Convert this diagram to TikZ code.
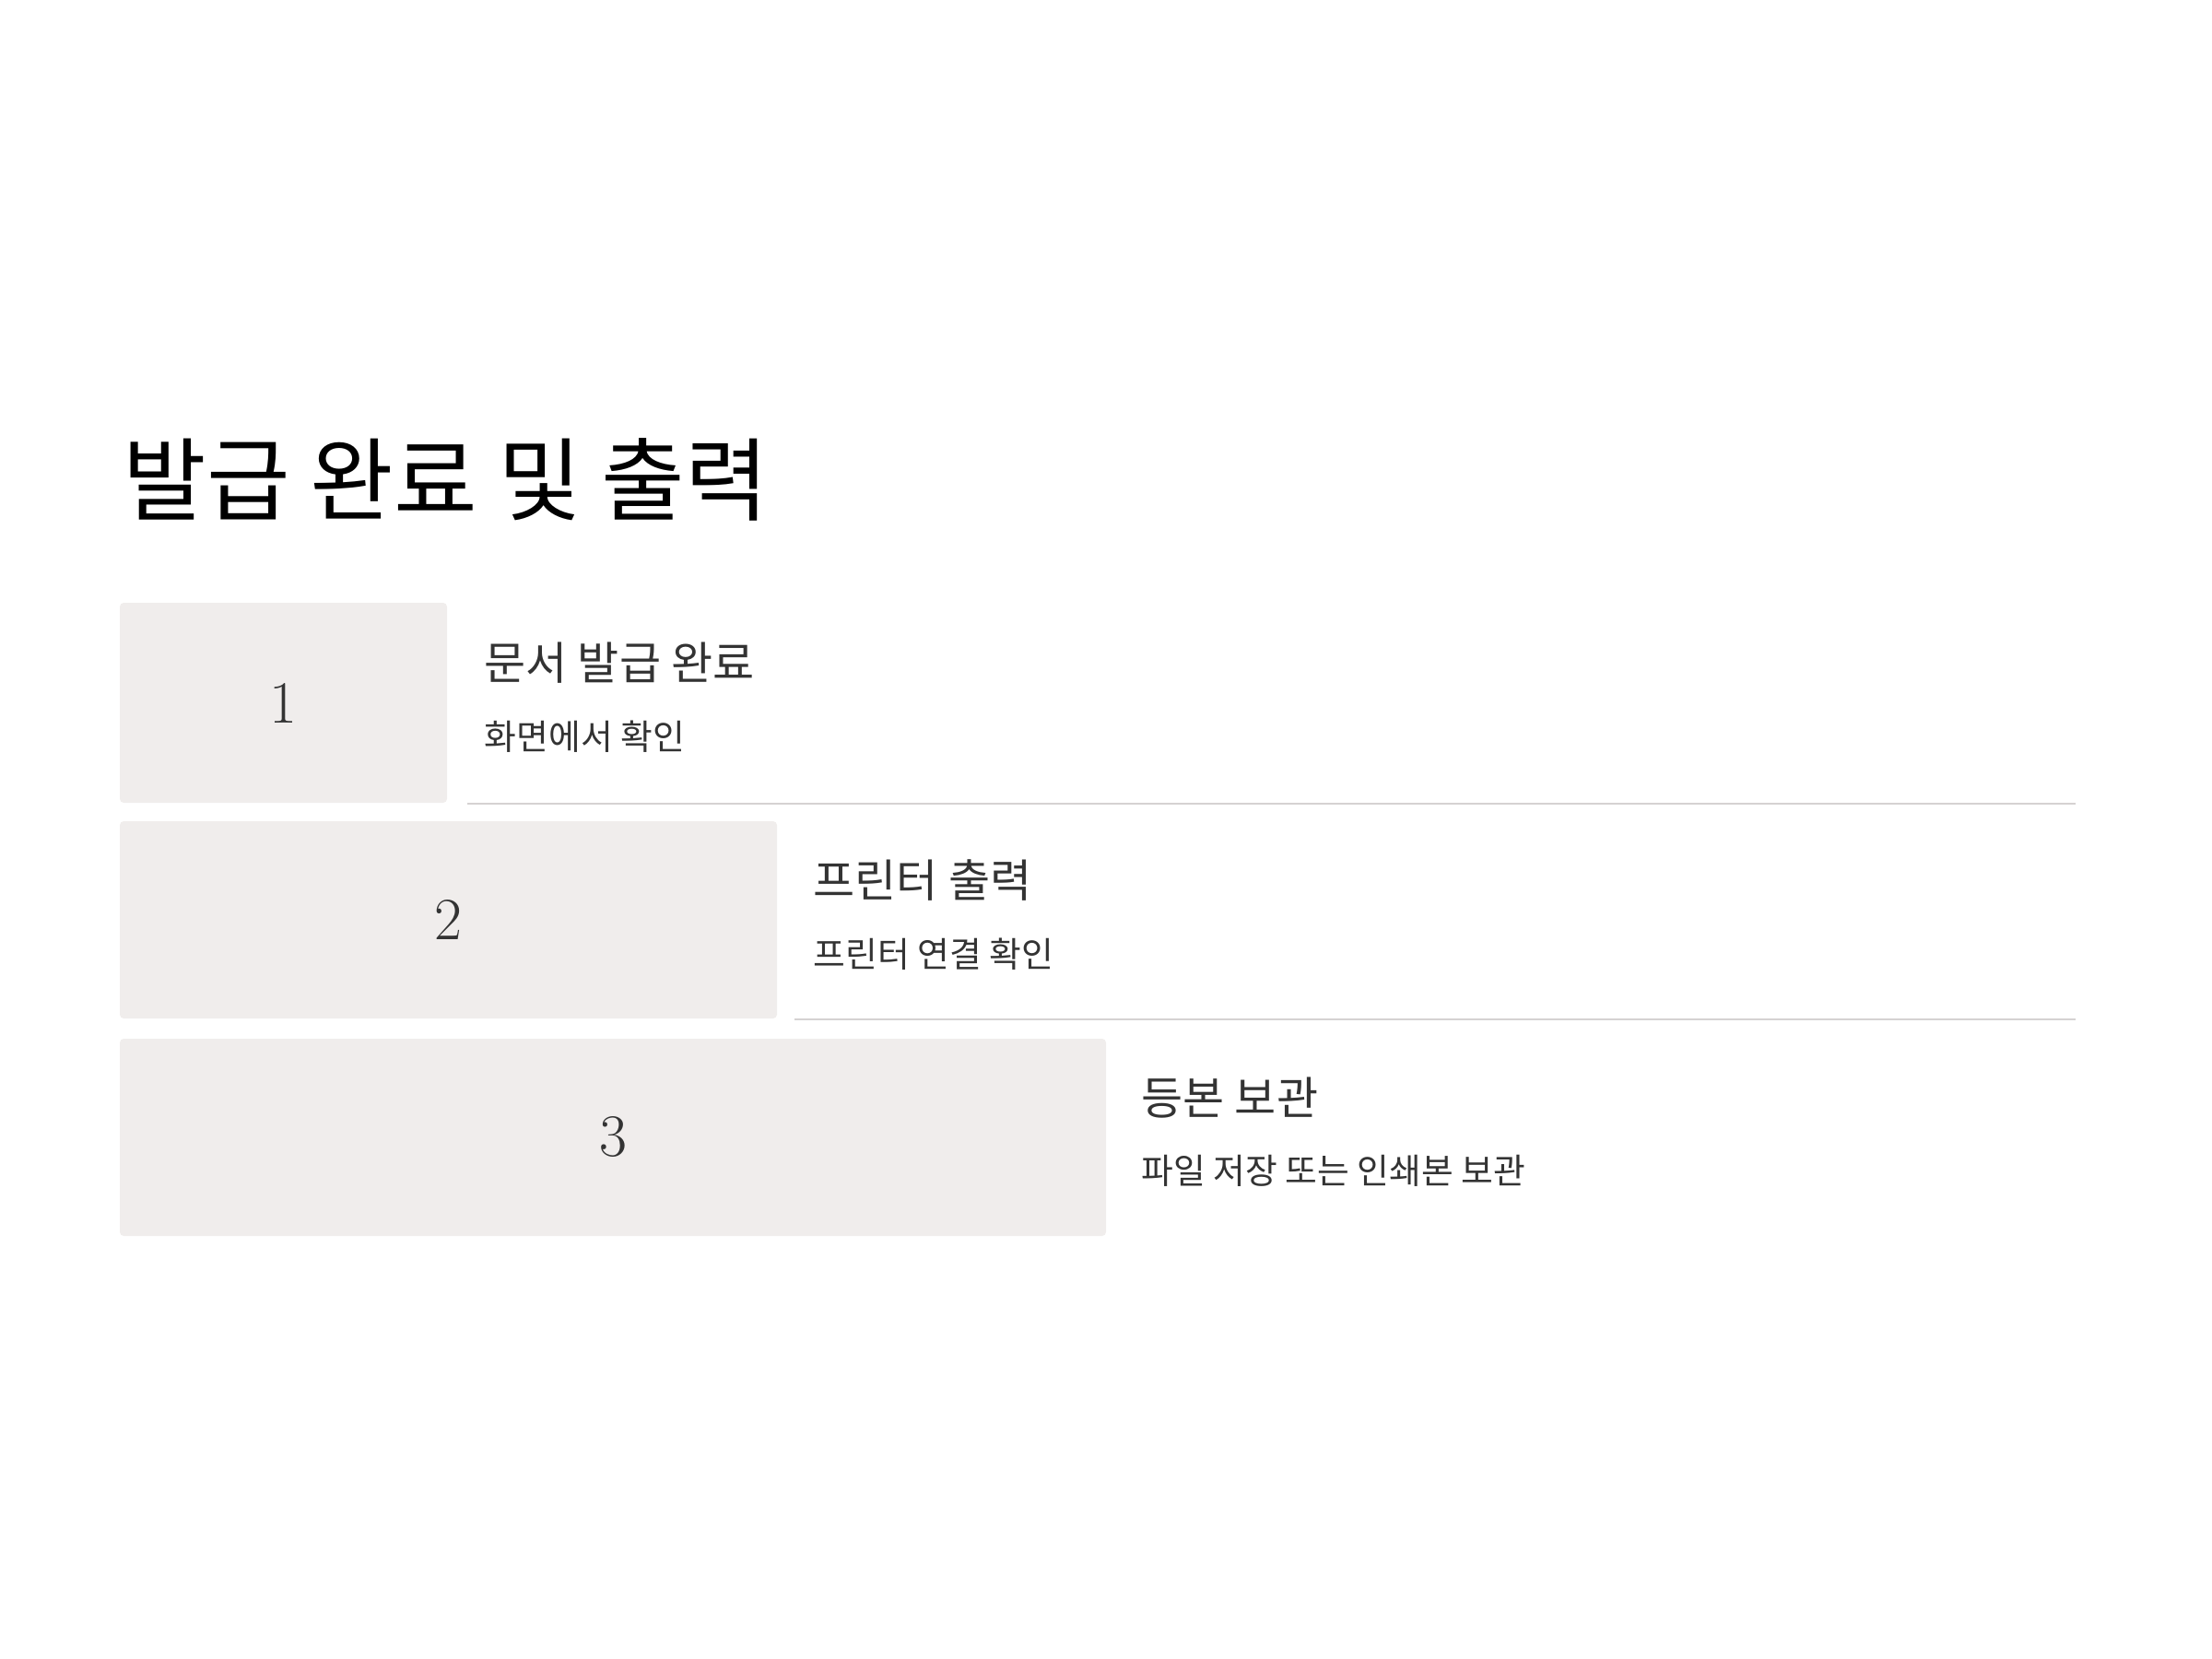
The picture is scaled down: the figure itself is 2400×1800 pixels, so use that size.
\documentclass[tikz,border=0pt]{standalone}
\usepackage{fontspec}
\setmainfont{Noto Sans CJK KR}
\newfontfamily\numfont{Latin Modern Roman}
\definecolor{boxfill}{HTML}{F0EDEC}
\definecolor{rulecol}{HTML}{D5D2D2}
\definecolor{txt}{HTML}{333333}
\begin{document}
\begin{tikzpicture}[x=0.01cm,y=-0.01cm,
  stepbox/.style={fill=boxfill, rounded corners=1.2pt},
  numtext/.style={text=txt, font=\numfont\fontsize{18.5}{20}\selectfont, inner sep=0},
  headtext/.style={anchor=west, text=txt, font=\fontsize{13.95}{16}\selectfont, inner sep=0},
  subtext/.style={anchor=west, text=txt, font=\fontsize{10.75}{13}\selectfont, inner sep=0},
  sep/.style={draw=rulecol, line width=0.6pt}]
\useasboundingbox (0,0) rectangle (2400,1800);
\node[anchor=west, inner sep=0, text=black, font=\fontsize{28}{32}\selectfont] (title) at (133,520) {발급 완료 및 출력};
% boxes
\path[stepbox] (130,654) rectangle (485,871);
\path[stepbox] (130,891) rectangle (843,1105);
\path[stepbox] (130,1127) rectangle (1200,1341);
\node[numtext] (n1) at (307.5,763) {1};
\node[numtext] (n2) at (486.5,998) {2};
\node[numtext] (n3) at (665,1234) {3};
% texts
\node[headtext] (h1) at (525,719) {문서 발급 완료};
\node[subtext] (s1) at (525,799) {화면에서 확인};
\node[headtext] (h2) at (882,955) {프린터 출력};
\node[subtext] (s2) at (882,1035) {프린터 연결 확인};
\node[headtext] (h3) at (1238,1191) {등본 보관};
\node[subtext] (s3) at (1238,1270) {파일 저장 또는 인쇄본 보관};
% separators
\coordinate (l1a) at (507,872); \coordinate (l1b) at (2252,872);
\coordinate (l2a) at (862,1106); \coordinate (l2b) at (2252,1106);
\draw[sep] (l1a) -- (l1b);
\draw[sep] (l2a) -- (l2b);
\end{tikzpicture}
\end{document}
